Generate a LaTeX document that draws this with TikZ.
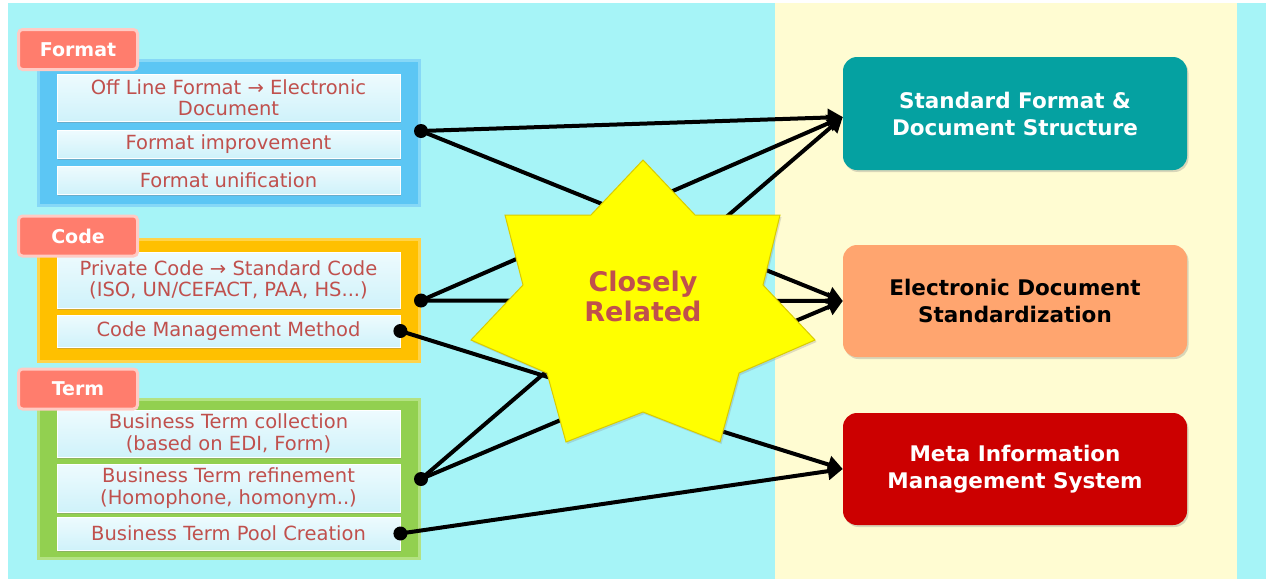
\documentclass[tikz,border=0pt]{standalone}
\usepackage{fontspec}
\setmainfont{DejaVu Sans}
\usetikzlibrary{arrows.meta,shadows}
\definecolor{bgcyan}{HTML}{A6F4F7}
\definecolor{panelyel}{HTML}{FFFCD2}
\definecolor{fmtblue}{HTML}{5CC6F4}
\definecolor{fmtedge}{HTML}{86D8F7}
\definecolor{codeor}{HTML}{FFC000}
\definecolor{codeedge}{HTML}{FFD34A}
\definecolor{termgr}{HTML}{92D050}
\definecolor{termedge}{HTML}{B3E283}
\definecolor{innertop}{HTML}{EEFBFE}
\definecolor{innerbot}{HTML}{CFF2FA}
\definecolor{tabfill}{HTML}{FF7D6D}
\definecolor{tabedge}{HTML}{FFCBC4}
\definecolor{txtred}{HTML}{C0504D}
\definecolor{boxteal}{HTML}{05A1A1}
\definecolor{boxsalmon}{HTML}{FFA56F}
\definecolor{boxred}{HTML}{CC0000}
\definecolor{staryel}{HTML}{FFFF00}
\definecolor{staredge}{HTML}{D9CC00}
\begin{document}
\begin{tikzpicture}[x=1pt,y=-1pt,
  grpbox/.style={line width=3pt, inner sep=0pt, minimum width=381pt,
    drop shadow={shadow xshift=1.5pt,shadow yshift=-1.5pt,opacity=0.3}},
  tabbox/.style={fill=tabfill, draw=tabedge, line width=3pt, rounded corners=4pt,
    minimum width=119pt, minimum height=40pt, inner sep=0pt, text=white,
    font=\fontsize{19}{22}\selectfont\bfseries},
  itembox/.style={top color=innertop, bottom color=innerbot, draw=white, line width=0.8pt,
    minimum width=343pt, inner sep=0pt, align=center, text=txtred,
    font=\fontsize{19.5}{21.5}\selectfont,
    drop shadow={shadow xshift=1pt,shadow yshift=-2pt,opacity=0.35}},
  resbox/.style={rounded corners=14pt, minimum width=344pt, minimum height=112pt,
    inner sep=0pt, align=center, font=\fontsize{21.5}{27}\selectfont\bfseries,
    drop shadow={shadow xshift=1.5pt,shadow yshift=-2pt,opacity=0.3}},
  link/.style={line width=4pt, black},
  arr/.style={link, -{Triangle[length=15pt,width=17pt]}},
  dot/.style={fill=black}
  ]
\useasboundingbox (0,0) rectangle (1266,579);
\fill[white] (0,0) rectangle (1266,579);
\fill[bgcyan] (8,3) rectangle (1266,579);
\fill[panelyel] (775,3) rectangle (1237,579);

% Format group
\node[grpbox, fill=fmtblue, draw=fmtedge, minimum height=145pt] (fmtgrp) at (229,133) {};
\node[itembox, minimum height=47pt] (f1) at (228.5,97.5) {Off Line Format → Electronic\\Document};
\node[itembox, minimum height=28pt] (f2) at (228.5,144) {Format improvement};
\node[itembox, minimum height=28pt] (f3) at (228.5,180) {Format unification};
\node[tabbox] (fmttab) at (78,49.5) {Format};

% Code group
\node[grpbox, fill=codeor, draw=codeedge, minimum height=122pt] (codegrp) at (229,300.5) {};
\node[itembox, minimum height=56pt] (c1) at (228.5,280) {Private Code → Standard Code\\(ISO, UN/CEFACT, PAA, HS...)};
\node[itembox, minimum height=32pt] (c2) at (228.5,331) {Code Management Method};
\node[tabbox] (codetab) at (78,236) {Code};

% Term group
\node[grpbox, fill=termgr, draw=termedge, minimum height=159pt] (termgrp) at (229,479) {};
\node[itembox, minimum height=47pt] (t1) at (228.5,433.5) {Business Term collection\\(based on EDI, Form)};
\node[itembox, minimum height=48pt] (t2) at (228.5,488) {Business Term refinement\\(Homophone, homonym..)};
\node[itembox, minimum height=33pt] (t3) at (228.5,533.5) {Business Term Pool Creation};
\node[tabbox] (termtab) at (78,389) {Term};

% Result boxes
\node[resbox, fill=boxteal, text=white, minimum height=113pt] (r1) at (1015,113.5) {Standard Format \&\\Document Structure};
\node[resbox, fill=boxsalmon, text=black] (r2) at (1015,301) {Electronic Document\\Standardization};
\node[resbox, fill=boxred, text=white] (r3) at (1015,469) {Meta Information\\Management System};

% Connectors
\draw[arr] ([yshift=2pt]fmtgrp.east) -- ([yshift=-3.5pt]r1.west);
\draw[arr] ([yshift=2pt]fmtgrp.east) -- (r2.west);
\draw[arr] (codegrp.east) -- ([yshift=-3.5pt]r1.west);
\draw[arr] (codegrp.east) -- (r2.west);
\draw[arr] (c2.east) -- (r3.west);
\draw[arr] (termgrp.east) -- ([yshift=-3.5pt]r1.west);
\draw[arr] (termgrp.east) -- (r2.west);
\draw[arr] (t3.east) -- (r3.west);
\fill[dot] ([yshift=2pt]fmtgrp.east) circle (7pt);
\fill[dot] (codegrp.east) circle (7pt);
\fill[dot] (c2.east) circle (7pt);
\fill[dot] (termgrp.east) circle (7pt);
\fill[dot] (t3.east) circle (7pt);

% Star
\path[fill=staryel, draw=staredge, line width=1pt,
  drop shadow={shadow xshift=1.5pt,shadow yshift=-2pt,opacity=0.25}]
  (643,160) -- (695,215) -- (780,215) -- (763,285) -- (815,340) -- (739,373)
  -- (720,442) -- (643,412) -- (566,442) -- (547,373) -- (471,340) -- (523,285)
  -- (505,215) -- (591,215) -- cycle;
\node[text=txtred, font=\fontsize{27}{30}\selectfont\bfseries, align=center] (star) at (643,296) {Closely\\Related};
\end{tikzpicture}
\end{document}
